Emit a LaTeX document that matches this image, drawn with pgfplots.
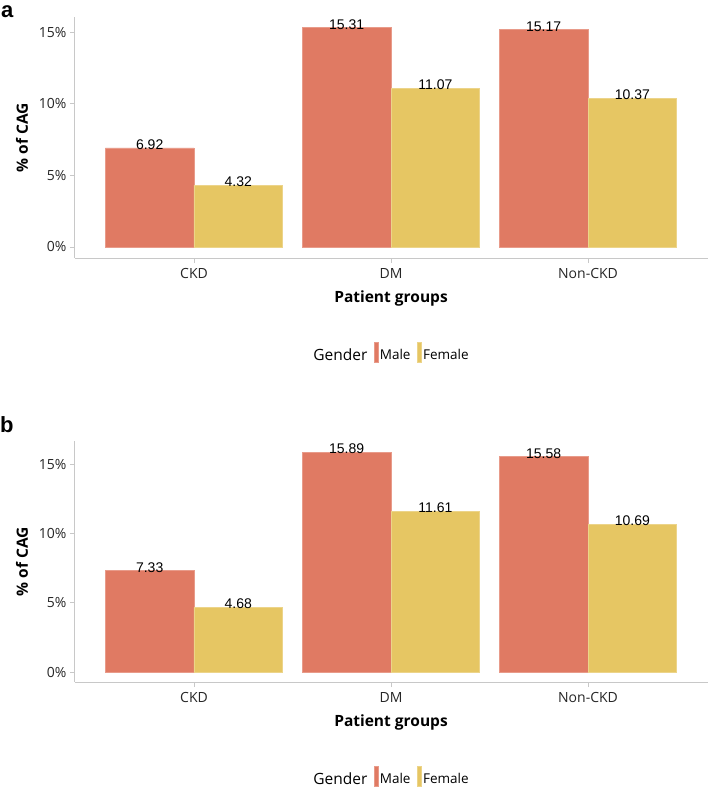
\documentclass[border=0pt]{standalone}
\usepackage{pgfplots}
\pgfplotsset{compat=1.18}
\usepackage{pgfplotstable}
\usepackage{fontspec}
\setmainfont{Open Sans}
\newfontfamily\arial{Liberation Sans}
\definecolor{male}{RGB}{224,122,99}
\definecolor{female}{RGB}{230,198,99}
\definecolor{axgray}{RGB}{200,200,200}

\pgfplotstableread{
x male female
0 6.92 4.32
1 15.31 11.07
2 15.17 10.37
}\dataA
\pgfplotstableread{
x male female
0 7.33 4.68
1 15.89 11.61
2 15.58 10.69
}\dataB

\pgfplotsset{
  spss/.style={
    scale only axis, width=633pt, height=241pt,
    xmin=-0.604, xmax=2.609,
    axis x line*=bottom, axis y line*=left,
    axis line style={-, axgray, line width=1pt},
    xtick={0,1,2}, xticklabels={CKD,DM,Non-CKD},
    ytick={0,5,10,15}, yticklabels={0\%,5\%,10\%,15\%},
    tick style={axgray, line width=0.8pt},
    tick align=outside, major tick length=5pt,
    tick label style={font=\fontsize{14}{16}\selectfont, text=black!85},
    xticklabel style={yshift=-2pt},
    every axis y label/.style={at={(axis description cs:-0.0837,0.5)}, rotate=90, anchor=center,
      font=\bfseries\fontsize{15.5}{17}\selectfont},
    every axis x label/.style={at={(axis description cs:0.4992,-0.166)}, anchor=center,
      font=\bfseries\fontsize{15.5}{17}\selectfont},
    xlabel={Patient groups}, ylabel={\% of CAG},
    legend columns=3,
    legend style={draw=none, fill=none, at={(axis description cs:0.4992,-0.394)}, anchor=center,
      font=\fontsize{13.5}{15}\selectfont, nodes={inner sep=1.5pt},
      /tikz/every even column/.append style={column sep=5pt}},
    legend image code/.code={\fill[##1] (0pt,-7pt) rectangle (4pt,13pt);},
    every node near coord/.append style={font=\arial\fontsize{14}{16}\selectfont, anchor=base,
      yshift=-1.5pt, inner sep=0pt, text=black},
  },
  malebar/.style={ybar, bar width=0.45, bar shift=0pt, fill=male, draw=male!75!white, line width=0.5pt,
    nodes near coords, point meta=explicit symbolic},
  femalebar/.style={ybar, bar width=0.45, bar shift=0pt, fill=female, draw=female!75!white, line width=0.5pt,
    nodes near coords, point meta=explicit symbolic},
}

\begin{document}
\begin{tikzpicture}
\useasboundingbox (0,0) rectangle (708pt,-788pt);
\node[anchor=base west, inner sep=0pt, font=\arial\bfseries\fontsize{22}{22}\selectfont] at (1pt,-17pt) {a};
\node[anchor=base west, inner sep=0pt, font=\arial\bfseries\fontsize{22}{22}\selectfont] at (0pt,-432pt) {b};

\begin{axis}[spss, at={(75pt,-258pt)}, anchor=south west, ymin=-0.77, ymax=16.05]
\addlegendimage{empty legend}
\addlegendentry{\fontsize{15.5}{17}\selectfont Gender}
\addplot[malebar] table[x expr=\thisrow{x}-0.225, y=male, meta=male] {\dataA};
\addlegendentry{Male}
\addplot[femalebar] table[x expr=\thisrow{x}+0.225, y=female, meta=female] {\dataA};
\addlegendentry{Female}
\end{axis}

\begin{axis}[spss, at={(75pt,-682pt)}, anchor=south west, ymin=-0.72, ymax=16.7]
\addlegendimage{empty legend}
\addlegendentry{\fontsize{15.5}{17}\selectfont Gender}
\addplot[malebar] table[x expr=\thisrow{x}-0.225, y=male, meta=male] {\dataB};
\addlegendentry{Male}
\addplot[femalebar] table[x expr=\thisrow{x}+0.225, y=female, meta=female] {\dataB};
\addlegendentry{Female}
\end{axis}
\end{tikzpicture}
\end{document}
